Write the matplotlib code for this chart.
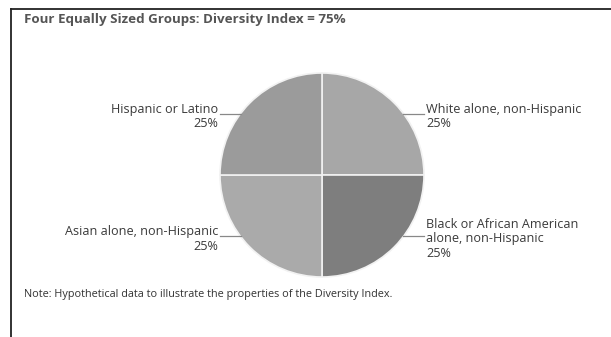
import matplotlib
matplotlib.use("Agg")
import matplotlib.pyplot as plt
import numpy as np
from matplotlib.lines import Line2D

categories = ["White alone, non-Hispanic",
              "Black or African American\nalone, non-Hispanic",
              "Asian alone, non-Hispanic",
              "Hispanic or Latino"]
values = [25, 25, 25, 25]
colors = ["#a7a7a7", "#7e7e7e", "#aaaaaa", "#9b9b9b"]
title = "Four Equally Sized Groups: Diversity Index = 75%"
note = "Note: Hypothetical data to illustrate the properties of the Diversity Index."

W, H = 611, 337
fig = plt.figure(figsize=(W / 100, H / 100), dpi=100)
fig.patch.set_facecolor("white")
plt.rcParams['font.family'] = ['Open Sans', 'DejaVu Sans']

# pie axes: center (322,175) radius 102 px
cx, cy, r = 322, 175, 102
ax = fig.add_axes([(cx - r) / W, (H - cy - r) / H, 2 * r / W, 2 * r / H])
wedges, _ = ax.pie(values, colors=colors, startangle=90, counterclock=False,
                   wedgeprops=dict(edgecolor="#f2f2f2", linewidth=1.2))
ax.set_xlim(-1, 1)
ax.set_ylim(-1, 1)
ax.set_aspect("equal")

leader_angle = 37
for w, lab, v in zip(wedges, categories, values):
    mid = (w.theta1 + w.theta2) / 2
    sy = np.sign(np.sin(np.radians(mid)))
    sx = np.sign(np.cos(np.radians(mid)))
    ang = np.radians(leader_angle)
    x0 = sx * np.cos(ang)
    y0 = sy * np.sin(ang)
    x1 = sx * 1.0
    ax.plot([x0, x1], [y0, y0], color="#888888", lw=0.9, clip_on=False)
    txt = f"{lab}\n{v}%"
    ty = y0 - 0.025
    if sx > 0:
        ax.text(x1 + 0.02, ty, txt, ha="left", va="center", ma="left",
                fontsize=9.1, color="#3a3a3a", linespacing=1.12)
    else:
        ax.text(x1 - 0.02, ty, txt, ha="right", va="center", ma="right",
                fontsize=9.1, color="#3a3a3a", linespacing=1.12)

fig.text(24 / W, 1 - 19 / H, title, ha="left", va="center",
         fontsize=9.6, fontweight="bold", color="#555555")
fig.text(24 / W, 1 - 295 / H, note, ha="left", va="center",
         fontsize=7.85, color="#333333")

fig.add_artist(Line2D([11 / W, 11 / W], [1 - 9 / H, 0], color="#222222", lw=1.3))
fig.add_artist(Line2D([11 / W, 1], [1 - 9 / H, 1 - 9 / H], color="#222222", lw=1.3))

fig.savefig("out.png", dpi=100)
